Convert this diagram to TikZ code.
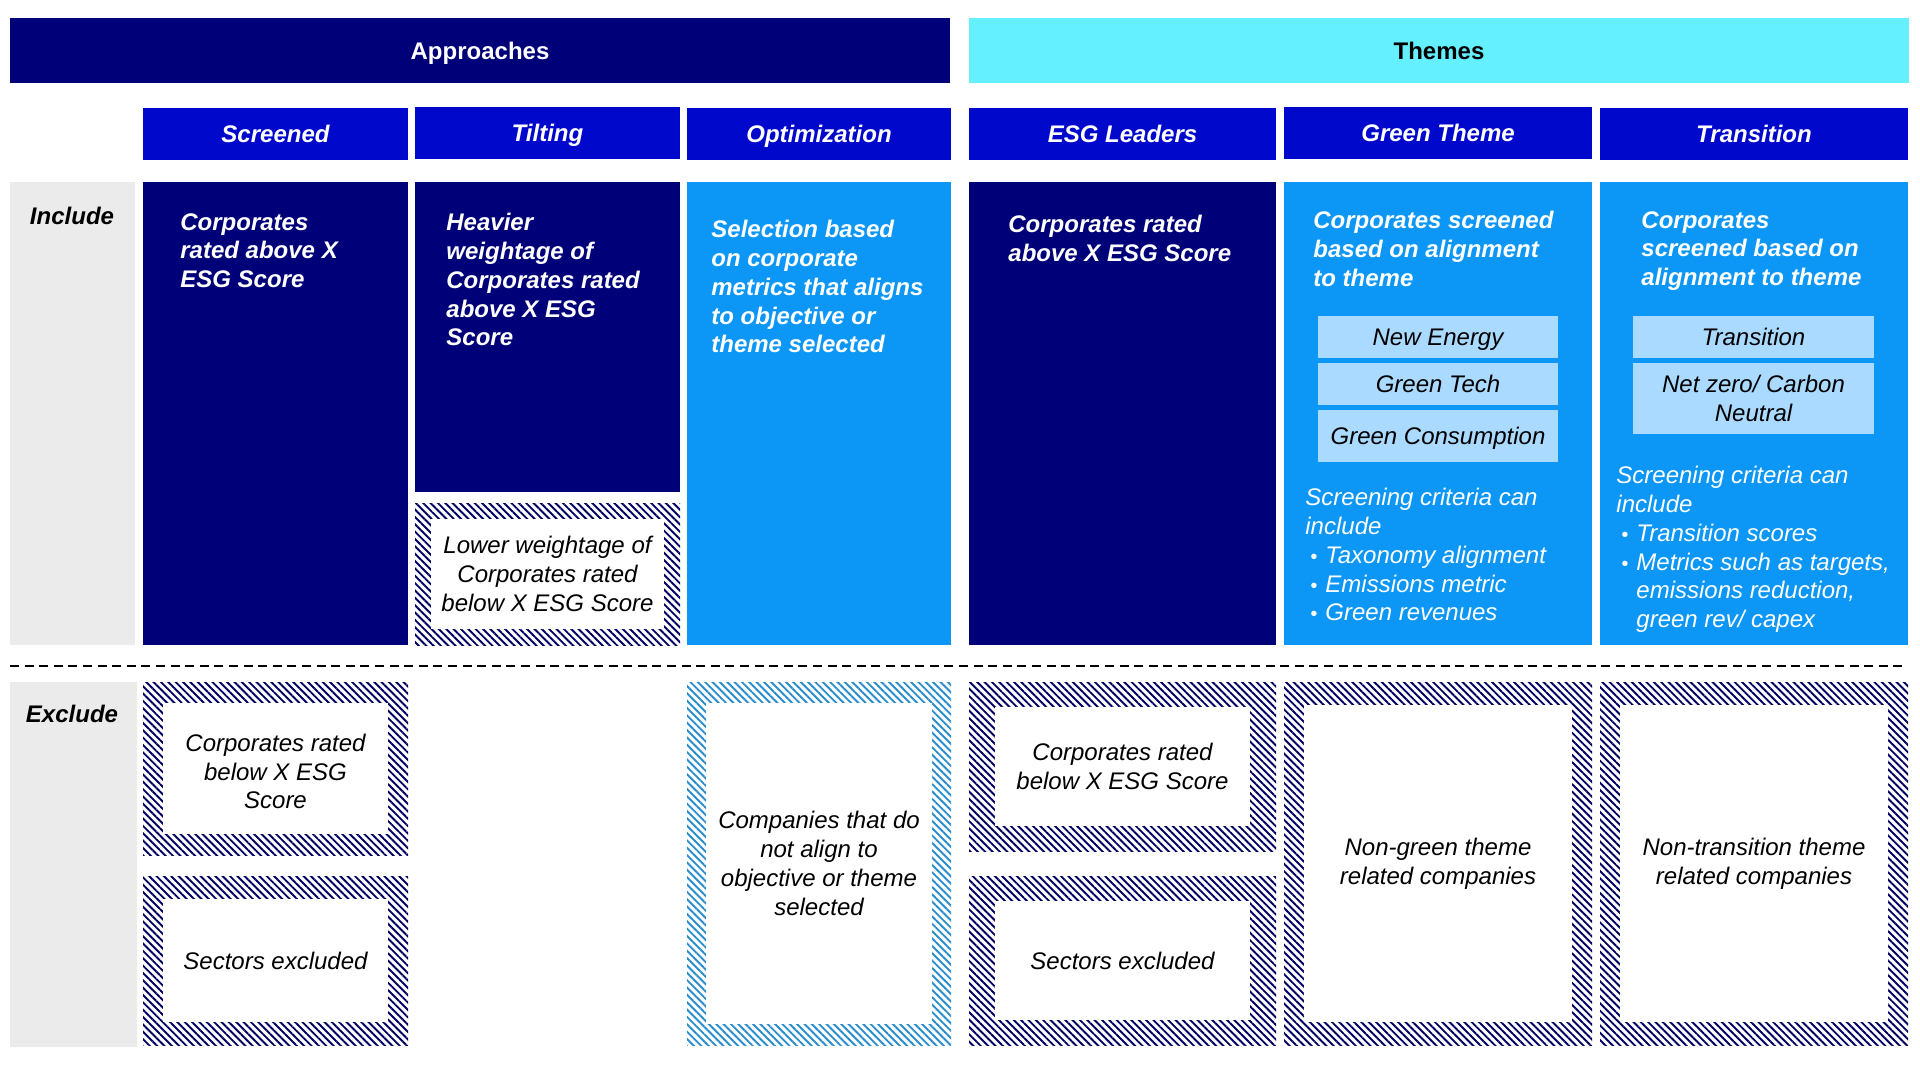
\documentclass[tikz,border=0pt]{standalone}
\usepackage{fontspec}
\setmainfont{Liberation Sans}
\usetikzlibrary{fit,patterns.meta}
\definecolor{navy}{RGB}{0,0,120}
\definecolor{hdrblue}{RGB}{0,8,204}
\definecolor{skyblue}{RGB}{12,150,245}
\definecolor{cyanbar}{RGB}{100,240,255}
\definecolor{subblue}{RGB}{170,218,255}
\definecolor{lgrey}{RGB}{235,235,235}
\definecolor{hatchnavy}{RGB}{0,0,100}
\definecolor{hatchsky}{RGB}{40,140,205}
\newcommand{\blt}{\hspace*{2.5pt}\makebox[7.5pt][l]{\fontsize{10}{10}\selectfont\textbullet}}
\newcommand{\hatchbox}[8]{%
  \node[fit={(#2,#3) (#4,#5)}, box, #8] (#1) {};
  \node[fit={(#2+#6,#3+#7) (#4-#6,#5-#7)}, box, fill=white] (#1-in) {};
}
\begin{document}
\begin{tikzpicture}[x=0.5pt,y=-0.5pt,
  box/.style={inner sep=0pt, outer sep=0pt, draw=none},
  navyfill/.style={box, fill=navy},
  hdr/.style={box, fill=hdrblue},
  skyfill/.style={box, fill=skyblue},
  subfill/.style={box, fill=subblue},
  greyfill/.style={box, fill=lgrey},
  oneline/.style={text height=8.6pt, text depth=0pt},
  hatchN/.style={pattern={Lines[angle=-45,distance=2.6pt,line width=0.95pt]}, pattern color=hatchnavy},
  hatchS/.style={pattern={Lines[angle=-45,distance=2.6pt,line width=0.95pt]}, pattern color=hatchsky},
  hdrtxt/.style={oneline, inner sep=0pt, text=white, font=\fontsize{12}{14.4}\selectfont\bfseries\itshape},
  wtxt/.style={inner sep=0pt, anchor=north west, align=left, text=white, font=\fontsize{12}{14.4}\selectfont\bfseries\itshape},
  wplain/.style={inner sep=0pt, anchor=north west, align=left, text=white, font=\fontsize{12}{14.4}\selectfont\itshape},
  ktxt/.style={inner sep=0pt, align=center, text=black, font=\fontsize{12}{14.4}\selectfont\itshape},
  lab/.style={oneline, inner sep=0pt, text=black, font=\fontsize{12}{14.4}\selectfont\bfseries\itshape}
]
\useasboundingbox (0,0) rectangle (1920,1080);

% top bars
\node[fit={(10,18) (950,83)}, navyfill] (app) {};
\node[oneline, inner sep=0pt, text=white, font=\fontsize{12}{14.4}\selectfont\bfseries] (appt) at (app.center) {Approaches};
\node[fit={(969,18) (1909,83)}, box, fill=cyanbar] (thm) {};
\node[oneline, inner sep=0pt, text=black, font=\fontsize{12}{14.4}\selectfont\bfseries] (thmt) at (thm.center) {Themes};

% column headers
\node[fit={(143,108) (408,160)}, hdr] (hScr) {};
\node[hdrtxt] (hScrT) at (hScr.center) {Screened};
\node[fit={(415,107) (680,159)}, hdr] (hTil) {};
\node[hdrtxt] (hTilT) at (hTil.center) {Tilting};
\node[fit={(687,108) (951,160)}, hdr] (hOpt) {};
\node[hdrtxt] (hOptT) at (hOpt.center) {Optimization};
\node[fit={(969,108) (1276,160)}, hdr] (hESG) {};
\node[hdrtxt] (hESGT) at (hESG.center) {ESG Leaders};
\node[fit={(1284,107) (1592,159)}, hdr] (hGrn) {};
\node[hdrtxt] (hGrnT) at (hGrn.center) {Green Theme};
\node[fit={(1600,108) (1908,160)}, hdr] (hTra) {};
\node[hdrtxt] (hTraT) at (hTra.center) {Transition};

% include row
\node[fit={(10,182) (135,645)}, greyfill] (incLab) {};
\node[lab] (incT) at (72,216) {Include};

\node[fit={(143,182) (408,645)}, navyfill] (iScr) {};
\node[wtxt] (iScrT) at (180,213) {Corporates\\rated above X\\ESG Score};

\node[fit={(415,182) (680,492)}, navyfill] (iTil) {};
\node[wtxt] (iTilT) at (446,213) {Heavier\\weightage of\\Corporates rated\\above X ESG\\Score};
\hatchbox{iTilH}{415}{503}{680}{645}{16}{16}{hatchN}
\node[ktxt] (iTilHT) at (iTilH-in.center) {Lower weightage of\\Corporates rated\\below X ESG Score};

\node[fit={(687,182) (951,645)}, skyfill] (iOpt) {};
\node[wtxt] (iOptT) at (711,220) {Selection based\\on corporate\\metrics that aligns\\to objective or\\theme selected};

\node[fit={(969,182) (1276,645)}, navyfill] (iESG) {};
\node[wtxt] (iESGT) at (1008,215) {Corporates rated\\above X ESG Score};

\node[fit={(1284,182) (1592,645)}, skyfill] (iGrn) {};
\node[wtxt] (iGrnT) at (1313,211) {Corporates screened\\based on alignment\\to theme};
\node[fit={(1318,316) (1558,358)}, subfill] (gNE) {};
\node[ktxt, oneline] (gNET) at (gNE.center) {New Energy};
\node[fit={(1318,363) (1558,405)}, subfill] (gGT) {};
\node[ktxt, oneline] (gGTT) at (gGT.center) {Green Tech};
\node[fit={(1318,410) (1558,462)}, subfill] (gGC) {};
\node[ktxt, oneline] (gGCT) at (gGC.center) {Green Consumption};
\node[wplain] (gScr) at (1305,488) {Screening criteria can\\include\\\blt Taxonomy alignment\\\blt Emissions metric\\\blt Green revenues};

\node[fit={(1600,182) (1908,645)}, skyfill] (iTra) {};
\node[wtxt] (iTraT) at (1641,211) {Corporates\\screened based on\\alignment to theme};
\node[fit={(1633,316) (1874,358)}, subfill] (tTr) {};
\node[ktxt, oneline] (tTrT) at (tTr.center) {Transition};
\node[fit={(1633,363) (1874,434)}, subfill] (tNZ) {};
\node[ktxt] (tNZT) at (tNZ.center) {Net zero/ Carbon\\Neutral};
\node[wplain] (tScr) at (1616,466) {Screening criteria can\\include\\\blt Transition scores\\\blt Metrics such as targets,\\\hspace*{10pt}emissions reduction,\\\hspace*{10pt}green rev/ capex};

% divider
\coordinate (dl) at (10,666);
\coordinate (dr) at (1905,666);
\draw[line width=1pt, dash pattern=on 4.5pt off 2.8pt] (dl) -- (dr);

% exclude row
\node[fit={(10,682) (137,1047)}, greyfill] (excLab) {};
\node[lab] (excT) at (72,714) {Exclude};

\hatchbox{eScr1}{143}{682}{408}{855}{20}{21}{hatchN}
\node[ktxt] (eScr1T) at ([yshift=-1.5pt]eScr1-in.center) {Corporates rated\\below X ESG\\Score};
\hatchbox{eScr2}{143}{876}{408}{1045}{20}{23}{hatchN}
\node[ktxt, oneline] (eScr2T) at (eScr2-in.center) {Sectors excluded};

\hatchbox{eOpt}{687}{682}{951}{1045}{19}{21}{hatchS}
\node[ktxt] (eOptT) at (eOpt-in.center) {Companies that do\\not align to\\objective or theme\\selected};

\hatchbox{eESG1}{969}{682}{1276}{851}{26}{25}{hatchN}
\node[ktxt] (eESG1T) at (eESG1-in.center) {Corporates rated\\below X ESG Score};
\hatchbox{eESG2}{969}{876}{1276}{1045}{26}{25}{hatchN}
\node[ktxt, oneline] (eESG2T) at (eESG2-in.center) {Sectors excluded};

\hatchbox{eGrn}{1284}{682}{1592}{1045}{20}{23}{hatchN}
\node[ktxt] (eGrnT) at (eGrn-in.center) {Non-green theme\\related companies};

\hatchbox{eTra}{1600}{682}{1908}{1045}{20}{23}{hatchN}
\node[ktxt] (eTraT) at (eTra-in.center) {Non-transition theme\\related companies};

\end{tikzpicture}
\end{document}
